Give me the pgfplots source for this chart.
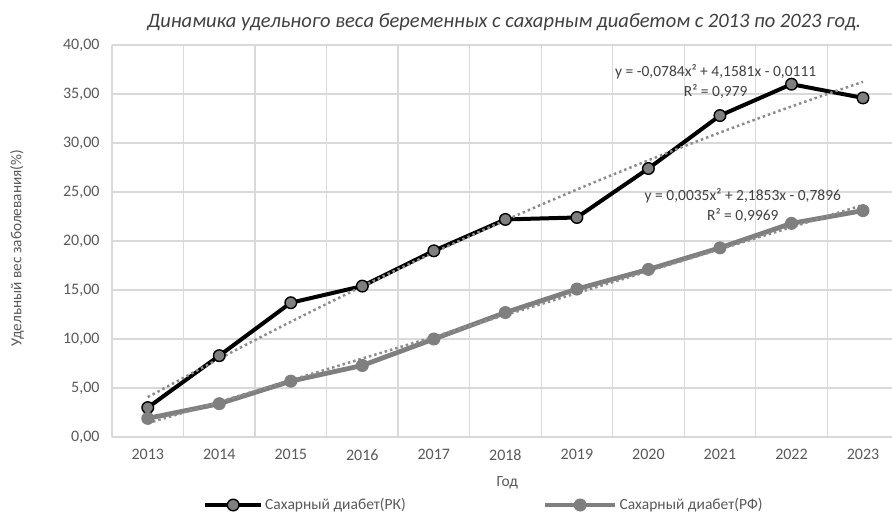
\documentclass[border=0pt]{standalone}
\usepackage{fontspec}
\setmainfont{Carlito}
\usepackage{pgfplots}
\pgfplotsset{compat=1.18}
\definecolor{gridc}{HTML}{D9D9D9}
\definecolor{tickc}{HTML}{595959}
\definecolor{ser2}{HTML}{7F7F7F}
\definecolor{trend}{HTML}{8C8C8C}
\definecolor{ttl}{HTML}{404040}
\pgfplotsset{
  legA/.style={legend image code/.code={\draw[##1, mark repeat=2, mark phase=2] plot coordinates {(0pt,0pt) (28pt,0pt) (56pt,0pt)};}},
  legB/.style={legend image code/.code={\draw[##1, mark repeat=2, mark phase=2] plot coordinates {(0pt,0pt) (35pt,0pt) (70pt,0pt)};}},
}
\begin{document}
\begin{tikzpicture}[x=1pt,y=1pt]
\useasboundingbox (-112,-78) rectangle (780,437);
\begin{axis}[
  scale only axis, width=779.6pt, height=392pt,
  xmin=-0.5, xmax=10.4, ymin=0, ymax=40,
  xtick={0,...,10},
  xticklabels={2013,2014,2015,2016,2017,2018,2019,2020,2021,2022,2023},
  minor xtick={-0.5,0.5,1.5,2.5,3.5,4.5,5.5,6.5,7.5,8.5,9.5},
  xminorgrids, ymajorgrids,
  ytick={0,5,...,40},
  major tick length=0pt, minor tick length=0pt,
  axis line style={draw=none},
  grid style={draw=gridc, line width=1.2pt},
  minor grid style={draw=gridc, line width=1.2pt},
  /pgf/number format/assume math mode=true,
  yticklabel style={/pgf/number format/fixed, /pgf/number format/fixed zerofill, /pgf/number format/precision=2, /pgf/number format/use comma, xshift=-9pt},
  ticklabel style={font=\fontsize{16}{19}\selectfont, text=tickc},
  xticklabel style={yshift=-9pt},
  xlabel={Год},
  xlabel style={at={(axis description cs:0.507,-0.1173)}, anchor=center, font=\fontsize{15.5}{18}\selectfont, text=tickc},
  ylabel={Удельный вес заболевания(\%)},
  ylabel style={at={(axis description cs:-0.1219,0.482)}, anchor=center, font=\fontsize{15.3}{18}\selectfont, text=tickc},
  title={Динамика удельного веса беременных с сахарным диабетом с 2013 по 2023 год.},
  title style={at={(axis description cs:0.503,1.0434)}, anchor=center, font=\fontsize{20.5}{24}\selectfont\itshape, text=ttl},
  legend columns=2,
  legend style={draw=none, fill=none, inner sep=0pt, at={(axis description cs:0.1167,-0.1735)}, anchor=west,
    font=\fontsize{15.5}{18}\selectfont, text=tickc,
    /tikz/every even column/.append style={column sep=135pt}},
]
\addplot[legA, draw=black, line width=4pt, mark=*, mark size=5.8pt,
  mark options={fill=ser2, draw=black, line width=1.4pt}]
  coordinates {(0,3.0) (1,8.3) (2,13.7) (3,15.4) (4,19.0) (5,22.2) (6,22.4) (7,27.4) (8,32.8) (9,36.0) (10,34.6)};
\addlegendentry{Сахарный диабет(РК)}
\addplot[legB, draw=ser2, line width=4.8pt, mark=*, mark size=6pt,
  mark options={fill=ser2, draw=ser2, line width=1pt}]
  coordinates {(0,1.9) (1,3.4) (2,5.7) (3,7.3) (4,10.0) (5,12.7) (6,15.1) (7,17.1) (8,19.3) (9,21.8) (10,23.1)};
\addlegendentry{Сахарный диабет(РФ)}
\addplot[forget plot, smooth, draw=trend, line width=2.5pt, dash pattern=on 2.5pt off 3pt]
  coordinates {(0,4.0686) (1,7.9915) (2,11.7576) (3,15.3669) (4,18.8194) (5,22.1151) (6,25.2540) (7,28.2361) (8,31.0614) (9,33.7299) (10,36.2416)};
\addplot[forget plot, smooth, draw=trend, line width=2.5pt, dash pattern=on 2.5pt off 3pt]
  coordinates {(0,1.3992) (1,3.5950) (2,5.7978) (3,8.0076) (4,10.2244) (5,12.4482) (6,14.6790) (7,16.9168) (8,19.1616) (9,21.4134) (10,23.6722)};
\node[align=center, font=\fontsize{15.5}{20}\selectfont, text=ttl] at (axis cs:7.94,36.3) {y = -0,0784x² + 4,1581x - 0,0111\\R² = 0,979};
\node[align=center, font=\fontsize{15.5}{20}\selectfont, text=ttl] at (axis cs:8.32,23.65) {y = 0,0035x² + 2,1853x - 0,7896\\R² = 0,9969};
\end{axis}
\end{tikzpicture}
\end{document}
